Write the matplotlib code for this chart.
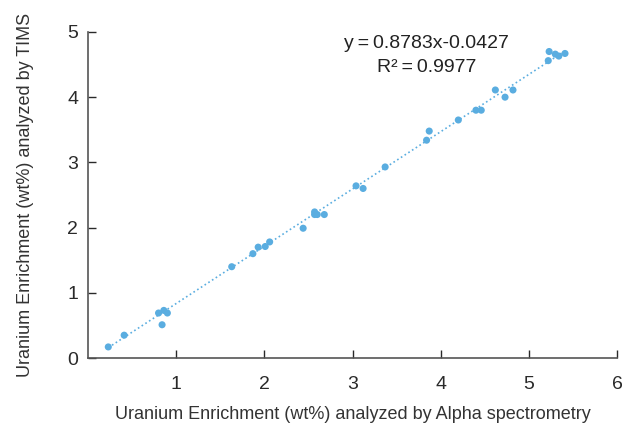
import numpy as np
import matplotlib
matplotlib.use('Agg')
from matplotlib import pyplot as plt

# -------------------- Datos --------------------
alpha = [0.23, 0.41, 0.80, 0.86, 0.90, 0.84, 1.63, 1.87, 1.93, 2.01, 2.06, 2.44,
         2.57, 2.57, 2.60, 2.68, 3.04, 3.12, 3.37, 3.84, 3.87, 4.20, 4.40, 4.46,
         4.62, 4.73, 4.82, 5.22, 5.23, 5.30, 5.34, 5.41]
tims = [0.17, 0.35, 0.69, 0.73, 0.69, 0.51, 1.40, 1.60, 1.70, 1.71, 1.78, 1.99,
        2.24, 2.20, 2.20, 2.20, 2.64, 2.60, 2.93, 3.34, 3.48, 3.65, 3.80, 3.80,
        4.11, 4.00, 4.11, 4.56, 4.70, 4.66, 4.63, 4.67]
slope = 0.8783
intercept = -0.0427
r2 = 0.9977

x_ticks = [1, 2, 3, 4, 5, 6]
y_ticks = [0, 1, 2, 3, 4, 5]

plt.rcParams['font.family'] = ['Liberation Sans', 'DejaVu Sans']

color = '#5aade0'
fig = plt.figure(figsize=(6.22, 4.26), dpi=100)
ax = fig.add_axes([0.1415, 0.1596, 0.8505, 0.7654])

xl = np.array([min(alpha), max(alpha)])
ax.plot(xl, slope * xl + intercept, linestyle=':', color=color, linewidth=1.2)
ax.scatter(alpha, tims, s=26, color=color, zorder=3, edgecolors='none')

ax.set_xlim(0, 6)
ax.set_ylim(0, 5)
ax.set_xticks(x_ticks)
ax.set_yticks(y_ticks)
ax.tick_params(direction='in', length=6, width=1, colors='#2a2a2a', labelsize=14, pad=7)
ax.tick_params(axis='x', pad=13)
for s in ['top', 'right']:
    ax.spines[s].set_visible(False)
for s in ['left', 'bottom']:
    ax.spines[s].set_color('#555555')
    ax.spines[s].set_linewidth(1.2)

ax.set_xlabel('Uranium Enrichment (wt%) analyzed by Alpha spectrometry', fontsize=13, color='#333333', labelpad=9)
ax.set_ylabel('Uranium Enrichment (wt%) analyzed by TIMS', fontsize=13, color='#333333', labelpad=24)

sp = '\u2009'
ax.text(3.84, 4.82, 'y' + sp + '=' + sp + '{:.4f}x{:.4f}'.format(slope, intercept),
        fontsize=14, ha='center', va='center', color='#222222')
ax.text(3.84, 4.45, 'R\u00b2' + sp + '=' + sp + '{:.4f}'.format(r2),
        fontsize=14, ha='center', va='center', color='#222222')

fig.savefig('out.png', dpi=100)
